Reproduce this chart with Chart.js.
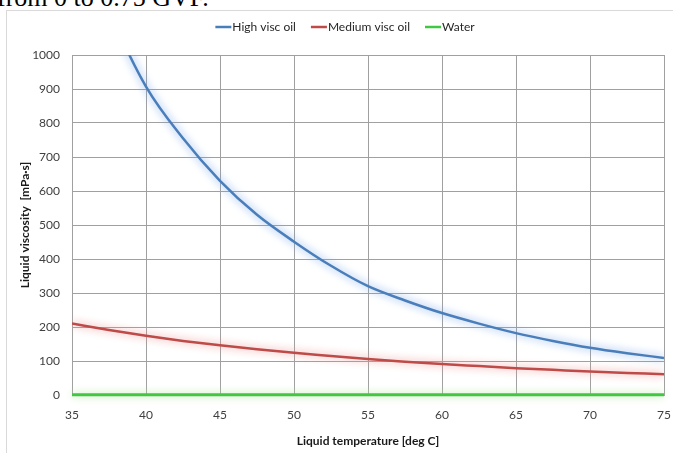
<!DOCTYPE html>
<html><head><meta charset="utf-8">
<script src="https://cdn.jsdelivr.net/npm/chart.js@4/dist/chart.umd.min.js"></script>
<style>
html,body{margin:0;padding:0;background:#fff;overflow:hidden;}
#wrap{position:relative;width:673px;height:453px;overflow:hidden;background:#fff;}
#doc{position:absolute;left:-3px;top:-15px;font:26px 'Liberation Serif','Times New Roman',serif;line-height:26px;white-space:nowrap;color:#000;}
#frame{position:absolute;left:6px;top:10px;width:700px;height:500px;border-left:1px solid #d9d9d9;border-top:1px solid #d9d9d9;}
#box{position:absolute;left:0;top:0;width:673px;height:453px;}
</style></head>
<body><div id="wrap"><div id="doc">from 0 to 0.75 GVF.</div><div id="frame"></div><div id="box"><canvas id="c"></canvas></div></div>
<script>
// Liquid temperature [deg C]
const temperatures = [35, 37.5, 40, 42.5, 45, 47.5, 50, 52.5, 55, 57.5, 60, 62.5, 65, 67.5, 70, 72.5, 75];
// Viscosity [mPa·s]
const highViscOil   = [1400, 1130, 907, 755, 630, 530, 451, 380, 320, 278, 241, 210, 182, 159, 139, 123, 109];
const mediumViscOil = [210, 191, 174, 159, 146, 134.5, 124, 115, 106, 98, 91, 85, 79, 74, 69, 65, 61];
const water         = [0.72, 0.68, 0.65, 0.62, 0.60, 0.57, 0.55, 0.53, 0.50, 0.48, 0.47, 0.45, 0.43, 0.42, 0.40, 0.39, 0.38];
const seriesNames = ['High visc oil', 'Medium visc oil', 'Water'];
const xTitle = 'Liquid temperature [deg C]';
const yTitle = 'Liquid viscosity  [mPa·s]';

const FONT = "Lato, 'Liberation Sans', sans-serif";
const toPts = arr => temperatures.map((t, i) => ({x: t, y: arr[i]}));

const glowPlugin = {
  id: 'glow',
  beforeDatasetDraw(chart, args) {
    const ds = chart.data.datasets[args.index];
    const ctx = chart.ctx;
    ctx.save();
    ctx.shadowColor = ds.glowColor;
    ctx.shadowBlur = ds.glowBlur;
  },
  afterDatasetDraw(chart) { chart.ctx.restore(); }
};

const legendPlugin = {
  id: 'lineLegend',
  afterDraw(chart) {
    const ctx = chart.ctx;
    ctx.save();
    ctx.font = '12px ' + FONT;
    ctx.textBaseline = 'middle';
    ctx.textAlign = 'left';
    const items = chart.data.datasets.map(d => ({label: d.label, color: d.borderColor, w: ctx.measureText(d.label).width}));
    const lineW = 16, gap = 1, spacing = 15;
    const total = items.reduce((s, it) => s + lineW + gap + it.w, 0) + spacing * (items.length - 1);
    let x = 345 - total / 2;
    const y = 27;
    items.forEach(it => {
      ctx.strokeStyle = it.color; ctx.lineWidth = 2.5;
      ctx.beginPath(); ctx.moveTo(x, y); ctx.lineTo(x + lineW, y); ctx.stroke();
      x += lineW + gap;
      ctx.fillStyle = '#262626';
      ctx.fillText(it.label, x, y);
      x += it.w + spacing;
    });
    ctx.restore();
  }
};

new Chart(document.getElementById('c'), {
  type: 'line',
  data: {
    datasets: [
      {label: seriesNames[0], data: toPts(highViscOil), borderColor: '#4a7ebb', borderWidth: 2.5, glowColor: 'rgba(110,160,230,1)', glowBlur: 9, pointRadius: 0, cubicInterpolationMode: 'monotone', fill: false},
      {label: seriesNames[1], data: toPts(mediumViscOil), borderColor: '#be4b48', borderWidth: 2.5, glowColor: 'rgba(235,140,140,1)', glowBlur: 9, pointRadius: 0, cubicInterpolationMode: 'monotone', fill: false},
      {label: seriesNames[2], data: toPts(water), borderColor: '#40c840', borderWidth: 3, glowColor: 'rgba(180,230,160,1)', glowBlur: 9, pointRadius: 0, cubicInterpolationMode: 'monotone', fill: false, clip: false}
    ]
  },
  options: {
    responsive: true,
    maintainAspectRatio: false,
    animation: false,
    layout: {padding: {left: 14, right: 9, top: 55, bottom: 0}},
    plugins: {legend: {display: false}, tooltip: {enabled: false}},
    scales: {
      x: {
        type: 'linear', min: 35, max: 75,
        ticks: {stepSize: 5, padding: 13, color: '#404040', font: {family: FONT, size: 12}, callback: v => String(v)},
        grid: {color: '#a0a0a0', lineWidth: 1, drawTicks: false},
        border: {color: '#a0a0a0'},
        title: {display: true, text: xTitle, color: '#1a1a1a', font: {family: FONT, size: 12, weight: 'bold'}, padding: {top: 0, bottom: 5}},
        afterFit(s) { s.height = 58; s.paddingLeft = 0; s.paddingRight = 0; }
      },
      y: {
        min: 0, max: 1000,
        ticks: {stepSize: 100, padding: 12, color: '#404040', font: {family: FONT, size: 12}, callback: v => String(v)},
        grid: {color: '#a0a0a0', lineWidth: 1, drawTicks: false},
        border: {color: '#a0a0a0'},
        title: {display: true, text: yTitle, color: '#1a1a1a', font: {family: FONT, size: 12, weight: 'bold'}, padding: {top: 4, bottom: 0}},
        afterFit(s) { s.width = 58; }
      }
    }
  },
  plugins: [glowPlugin, legendPlugin]
});
</script>
</body></html>
